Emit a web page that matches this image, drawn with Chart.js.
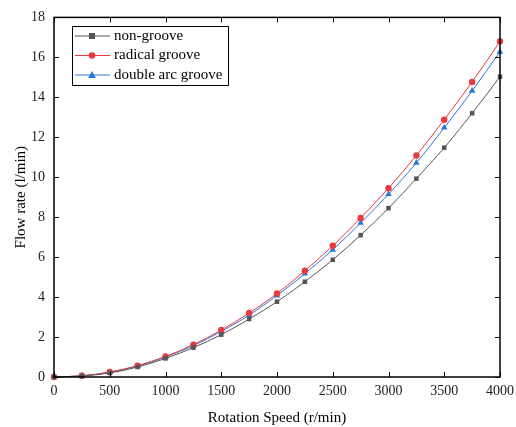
<!DOCTYPE html>
<html>
<head>
<meta charset="utf-8">
<script src="https://cdn.jsdelivr.net/npm/chart.js@4"></script>
<style>
  body { margin: 0; background: #fff; }
  #wrap { width: 516px; height: 427px; }
</style>
</head>
<body>
<div id="wrap"><canvas id="flowChart" width="516" height="427"></canvas></div>
<script>
// Rotation speed (r/min)
const speeds = [0, 250, 500, 750, 1000, 1250, 1500, 1750, 2000, 2250, 2500, 2750, 3000, 3250, 3500, 3750, 4000];
// Flow rate (l/min)
const nonGroove = [0, 0.05, 0.2, 0.5, 0.93, 1.47, 2.12, 2.9, 3.77, 4.77, 5.87, 7.1, 8.45, 9.93, 11.48, 13.2, 15.03];
const radicalGroove = [0, 0.06, 0.25, 0.57, 1.03, 1.62, 2.35, 3.2, 4.18, 5.32, 6.57, 7.96, 9.45, 11.09, 12.88, 14.77, 16.8];
const doubleArcGroove = [0, 0.06, 0.23, 0.55, 1.0, 1.57, 2.28, 3.1, 4.08, 5.17, 6.37, 7.71, 9.15, 10.72, 12.48, 14.32, 16.28];

const seriesNames = ['non-groove', 'radical groove', 'double arc groove'];
const xTicks = [0, 500, 1000, 1500, 2000, 2500, 3000, 3500, 4000];
const yTicks = [0, 2, 4, 6, 8, 10, 12, 14, 16, 18];

const FONT = "'Liberation Serif', 'DejaVu Serif', serif";

function toPoints(values) {
    return speeds.map((s, i) => ({ x: s, y: values[i] }));
}

// Frame, inward ticks and legend box
const framePlugin = {
    id: 'frame',
    afterDraw(chart) {
        const ctx = chart.ctx;
        const a = chart.chartArea;
        const xs = chart.scales.x;
        const ys = chart.scales.y;
        ctx.save();
        ctx.strokeStyle = '#000';
        ctx.lineWidth = 1.5;
        ctx.strokeRect(a.left, a.top, a.right - a.left, a.bottom - a.top);
        ctx.lineWidth = 1;
        const len = 5;
        ctx.beginPath();
        xTicks.forEach(v => {
            const px = Math.round(xs.getPixelForValue(v)) + 0.5;
            ctx.moveTo(px, a.bottom); ctx.lineTo(px, a.bottom - len);
            ctx.moveTo(px, a.top); ctx.lineTo(px, a.top + len);
        });
        yTicks.forEach(v => {
            const py = Math.round(ys.getPixelForValue(v)) + 0.5;
            ctx.moveTo(a.left, py); ctx.lineTo(a.left + len, py);
            ctx.moveTo(a.right, py); ctx.lineTo(a.right - len, py);
        });
        ctx.stroke();

        // legend
        const lx = 72, ly = 26, lw = 156, lh = 59;
        ctx.lineWidth = 1;
        ctx.strokeRect(lx + 0.5, ly + 0.5, lw, lh);
        ctx.font = '15px ' + FONT;
        ctx.textBaseline = 'middle';
        chart.data.datasets.forEach((ds, i) => {
            const cy = ly + 10 + i * 19.5;
            ctx.strokeStyle = ds.borderColor;
            ctx.beginPath();
            ctx.moveTo(lx + 3, cy); ctx.lineTo(lx + 38, cy);
            ctx.stroke();
            ctx.fillStyle = ds.pointBackgroundColor;
            const mx = lx + 20;
            if (ds.pointStyle === 'rect') {
                ctx.fillRect(mx - 3, cy - 3, 6, 6);
            } else if (ds.pointStyle === 'circle') {
                ctx.beginPath(); ctx.arc(mx, cy, 3.3, 0, Math.PI * 2); ctx.fill();
            } else {
                ctx.beginPath();
                ctx.moveTo(mx, cy - 4); ctx.lineTo(mx + 4, cy + 3); ctx.lineTo(mx - 4, cy + 3);
                ctx.closePath(); ctx.fill();
            }
            ctx.fillStyle = '#000';
            ctx.fillText(seriesNames[i], lx + 42, cy);
        });
        ctx.restore();
    }
};

const colors = ['#555555', '#e8393f', '#2a78dc'];
const styles = ['rect', 'circle', 'triangle'];
const values = [nonGroove, radicalGroove, doubleArcGroove];

new Chart(document.getElementById('flowChart'), {
    type: 'line',
    data: {
        datasets: values.map((v, i) => ({
            label: seriesNames[i],
            data: toPoints(v),
            borderColor: colors[i],
            backgroundColor: colors[i],
            pointBackgroundColor: colors[i],
            pointBorderColor: colors[i],
            pointStyle: styles[i],
            pointRadius: i === 2 ? 3.8 : 3.2,
            pointBorderWidth: 0,
            borderWidth: 1,
            tension: 0.3,
            cubicInterpolationMode: 'monotone',
            fill: false,
            clip: false
        }))
    },
    options: {
        responsive: false,
        animation: false,
        layout: { padding: { top: 15, right: 16, left: 12, bottom: 0 } },
        plugins: {
            legend: { display: false },
            tooltip: { enabled: false }
        },
        scales: {
            x: {
                type: 'linear',
                min: 0,
                max: 4000,
                afterBuildTicks: scale => { scale.ticks = xTicks.map(v => ({ value: v })); },
                afterFit: scale => { scale.height = 50; scale.paddingRight = 0; scale.paddingLeft = 0; },
                grid: { display: false, drawTicks: false },
                border: { display: false },
                ticks: { color: '#222', padding: 6, maxRotation: 0, callback: v => String(v), font: { family: FONT, size: 14 } },
                title: { display: true, text: 'Rotation Speed (r/min)', color: '#000', padding: { top: 6, bottom: 0 }, font: { family: FONT, size: 15 } }
            },
            y: {
                type: 'linear',
                min: 0,
                max: 18,
                afterBuildTicks: scale => { scale.ticks = yTicks.map(v => ({ value: v })); },
                afterFit: scale => { scale.width = 42; },
                grid: { display: false, drawTicks: false },
                border: { display: false },
                ticks: { color: '#222', padding: 9, font: { family: FONT, size: 14 } },
                title: { display: true, text: 'Flow rate (l/min)', color: '#000', padding: { top: 0, bottom: 3 }, font: { family: FONT, size: 15 } }
            }
        }
    },
    plugins: [framePlugin]
});
</script>
</body>
</html>
